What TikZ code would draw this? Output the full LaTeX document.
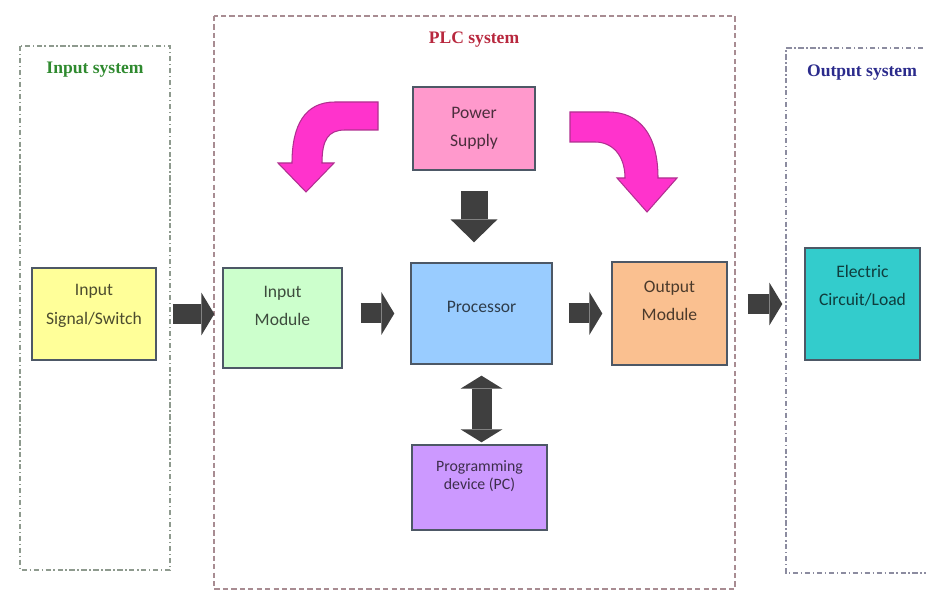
\documentclass[tikz,border=0pt]{standalone}
\usepackage{fontspec}
\setmainfont{Carlito}
\newfontfamily\headfont{Liberation Serif}
\usepackage{tikz}
\usetikzlibrary{arrows.meta,positioning,calc}
\definecolor{edge}{HTML}{4D5866}
\definecolor{blk}{HTML}{3F3F3F}
\definecolor{sigc}{HTML}{FFFF99}
\definecolor{inmodc}{HTML}{CCFFCC}
\definecolor{procc}{HTML}{99CCFF}
\definecolor{outmodc}{HTML}{FAC090}
\definecolor{loadc}{HTML}{33CCCC}
\definecolor{powc}{HTML}{FF99CC}
\definecolor{pcc}{HTML}{CC99FF}
\definecolor{mag}{HTML}{FF33CC}
\definecolor{magline}{HTML}{B03090}
\definecolor{hgreen}{HTML}{2F8A2F}
\definecolor{hred}{HTML}{B8283E}
\definecolor{hblue}{HTML}{2B2B8C}
\definecolor{frgreen}{HTML}{8E9A8E}
\definecolor{frred}{HTML}{A88C92}
\definecolor{frblue}{HTML}{8C8CA0}

\begin{document}
\begin{tikzpicture}[x=0.02cm,y=-0.02cm,
   box/.style={draw=edge,line width=0.8pt,fill=#1,text=#1!30!black,align=center,inner sep=0pt,font=\fontsize{10}{16}\selectfont},
   bar/.style={draw=blk,line width=0.4cm,-{Triangle[length=0.26cm,width=0.86cm,line width=0pt]}},
   ttl/.style={font=\headfont\bfseries\fontsize{10}{12}\selectfont},
   frame/.style={draw=#1,line width=0.7pt,dash pattern=on 3pt off 1.5pt on 0.8pt off 1.5pt},
   curv/.style={fill=mag,draw=magline,line width=0.6pt,line join=miter}]
  \useasboundingbox (0,0) rectangle (926,597);
  % system frames
  \draw[frame=frgreen] (20,46) rectangle (170,570);
  \draw[frame=frred,dash pattern=on 3pt off 1.8pt] (214,16) rectangle (735,589);
  \draw[frame=frblue] (935,48) -- (786,48) -- (786,573) -- (935,573);
  \node[ttl,text=hgreen] (tin) at (95,70) {Input system};
  \node[ttl,text=hred] (tplc) at (474,40) {PLC system};
  \node[ttl,text=hblue] (tout) at (862,73) {Output system};
  % blocks
  \node[box=sigc,minimum width=2.48cm,minimum height=1.84cm,text depth=11pt] (sig) at (94,314) {Input\\Signal/Switch};
  \node[box=inmodc,minimum width=2.38cm,minimum height=2.0cm,text depth=14pt] (inmod) at (282.5,318) {Input\\Module};
  \node[box=procc,minimum width=2.82cm,minimum height=2.02cm,text depth=8pt] (proc) at (481.5,313.5) {Processor};
  \node[box=outmodc,minimum width=2.3cm,minimum height=2.06cm,text depth=14pt] (outmod) at (669.5,313.5) {Output\\Module};
  \node[box=loadc,minimum width=2.3cm,minimum height=2.24cm,text depth=21pt] (load) at (862.5,304) {Electric\\Circuit/Load};
  \node[box=powc,minimum width=2.44cm,minimum height=1.66cm] (pow) at (474,128.5) {Power\\Supply};
  \node[box=pcc,minimum width=2.7cm,minimum height=1.7cm,text depth=14pt,font=\fontsize{9}{10}\selectfont] (pc) at (479.5,487.5) {Programming\\device (PC)};
  % block arrows
  \draw[bar,shorten <=0.32cm,shorten >=0.16cm] (sig.east) -- (sig.east -| inmod.west);
  \draw[bar,shorten <=0.36cm,shorten >=0.32cm] (proc.west -| inmod.east) -- (proc.west);
  \draw[bar,shorten <=0.32cm,shorten >=0.18cm] (proc.east) -- (proc.east -| outmod.west);
  \draw[bar,shorten <=0.4cm,shorten >=0.44cm] (load.west -| outmod.east) -- (load.west);
  \draw[bar,line width=0.54cm,-{Triangle[length=0.46cm,width=0.94cm,line width=0pt]},shorten <=0.4cm,shorten >=0.4cm] (pow.south) -- (pow.south |- proc.north);
  \draw[bar,{Triangle[length=0.26cm,width=0.84cm,line width=0pt]}-{Triangle[length=0.26cm,width=0.84cm,line width=0pt]},shorten <=0.22cm,shorten >=0.04cm] (proc.south) -- (proc.south |- pc.north);
  % power feed arrows
  \filldraw[curv] (378,102) -- (335,102) .. controls (305,102) and (292,125) .. (292,163) -- (278,163) -- (306,192) -- (334,163) -- (322,163) .. controls (322,140) and (328,130) .. (345,130) -- (378,130) -- cycle;
  \filldraw[curv] (570,112) -- (608,112) .. controls (640,112) and (658,135) .. (658,178) -- (677,178) -- (647,212) -- (617,178) -- (625,178) .. controls (625,155) and (612,142) .. (595,142) -- (570,142) -- cycle;
\end{tikzpicture}
\end{document}
